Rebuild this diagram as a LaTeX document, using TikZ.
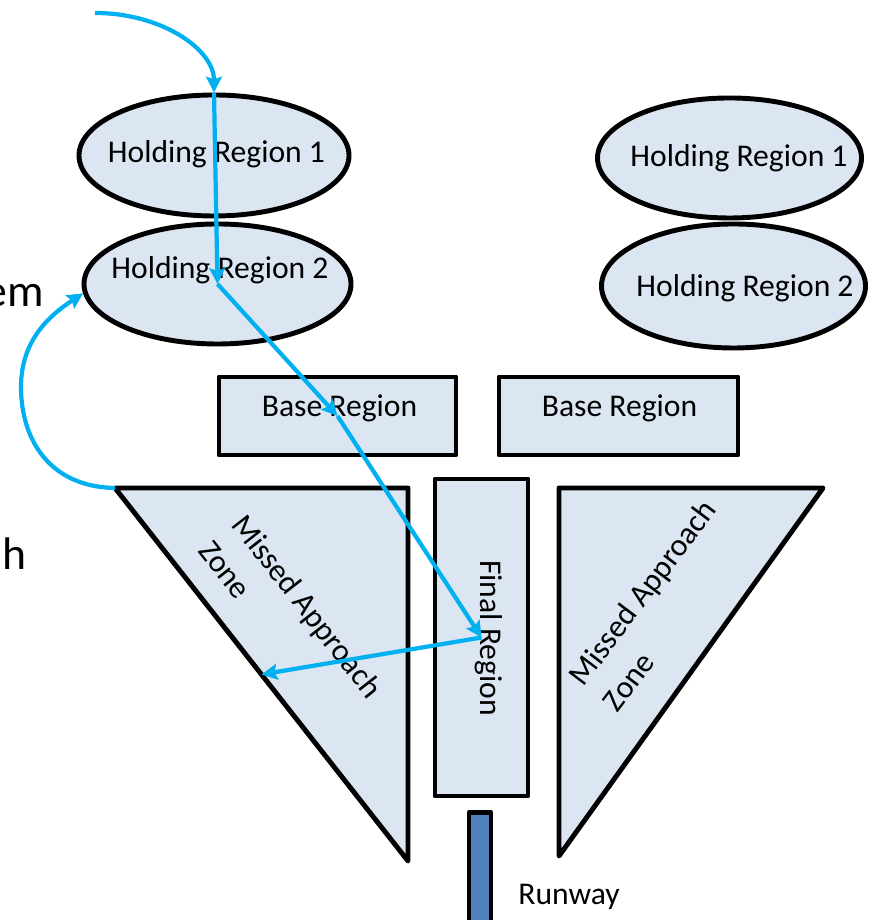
\documentclass[tikz,border=0pt]{standalone}
\usepackage{fontspec}
\setmainfont{Carlito}
\usetikzlibrary{arrows.meta,calc,shapes.geometric}
\definecolor{zonefill}{HTML}{DCE6F2}
\definecolor{pathblue}{HTML}{00B0F0}
\definecolor{runwayblue}{HTML}{4F81BD}
\begin{document}
\begin{tikzpicture}[region/.style={draw=black,fill=zonefill,line width=2.8pt,line join=round},
  flight/.style={draw=pathblue,line width=2.4pt,-{Stealth[length=9pt,width=9pt,inset=1.5pt]}},
  lbl/.style={font=\fontsize{18}{24}\selectfont,inner sep=0pt}]
\useasboundingbox (0,0) rectangle (17.42,18.4);
% holding regions
\node[region,ellipse,minimum width=5.4cm,minimum height=2.42cm] (hl1) at (4.28,15.29) {};
\node[region,ellipse,minimum width=5.34cm,minimum height=2.4cm] (hl2) at (4.35,12.72) {};
\node[region,ellipse,minimum width=5.28cm,minimum height=2.4cm] (hr1) at (14.59,15.24) {};
\node[region,ellipse,minimum width=5.28cm,minimum height=2.48cm] (hr2) at (14.67,12.68) {};
\node[lbl,anchor=base] (hl1t) at (4.33,15.14) {Holding Region 1};
\node[lbl,anchor=base] (hl2t) at (4.4,12.82) {Holding Region 2};
\node[lbl,anchor=base] (hr1t) at (14.78,15.06) {Holding Region 1};
\node[lbl,anchor=base] (hr2t) at (14.9,12.46) {Holding Region 2};
% base and final
\node[region,minimum width=4.74cm,minimum height=1.56cm] (bl) at (6.75,10.08) {};
\node[region,minimum width=4.78cm,minimum height=1.56cm] (br) at (12.37,10.08) {};
\node[lbl,anchor=base] (blt) at (6.79,10.06) {Base Region};
\node[lbl,anchor=base] (brt) at (12.39,10.06) {Base Region};
\node[region,minimum width=1.86cm,minimum height=6.34cm] (fr) at (9.63,5.65) {};
\node[lbl,rotate=-90,anchor=base] (frt) at (9.6,5.64) {Final Region};
% missed approach zones
\coordinate (la) at (2.3,8.64);
\coordinate (lb) at (8.16,8.64);
\coordinate (lc) at (8.16,1.18);
\coordinate (ra) at (11.18,8.64);
\coordinate (rb) at (16.46,8.64);
\coordinate (rc) at (11.18,1.28);
\filldraw[region] (la) -- (lb) -- (lc) -- cycle;
\filldraw[region] (ra) -- (rb) -- (rc) -- cycle;
\node[lbl,rotate=-52,align=left] (lz) at (5.82,6.02) {Missed Approach\\Zone};
\node[lbl,rotate=53,align=left] (rz) at (13.18,6.3) {Missed Approach\\Zone};
\coordinate (lmid) at ($(la)!.5!(lc)$);
% runway
\node[region,fill=runwayblue,minimum width=0.44cm,minimum height=2.6cm,anchor=north] (rw) at (9.6,2.2) {};
\node[lbl,anchor=base west] (rwt) at (10.36,0.3) {Runway};
% cut off words at the left edge
\node[font=\fontsize{26}{30}\selectfont,inner sep=0pt,anchor=base east] (em) at (0.88,12.26) {em};
\node[font=\fontsize{26}{30}\selectfont,inner sep=0pt,anchor=base west] (h) at (0.04,7.0) {h};
% flight path
\coordinate (entry) at (1.9,18.14);
\draw[flight] (entry) .. controls (3.22,18.14) and (4.28,17.42) .. (hl1.north);
\draw[flight] (hl1.north) -- (hl2.center);
\draw[flight] (hl2.center) -- (bl.center);
\draw[flight] (bl.center) -- (fr.center);
\draw[flight] (fr.center) -- (lmid);
\draw[flight] (la) .. controls (1.0,8.66) and (0.42,9.6) .. (0.42,10.66) .. controls (0.42,11.6) and (1.0,12.1) .. (hl2.184);
\end{tikzpicture}
\end{document}
